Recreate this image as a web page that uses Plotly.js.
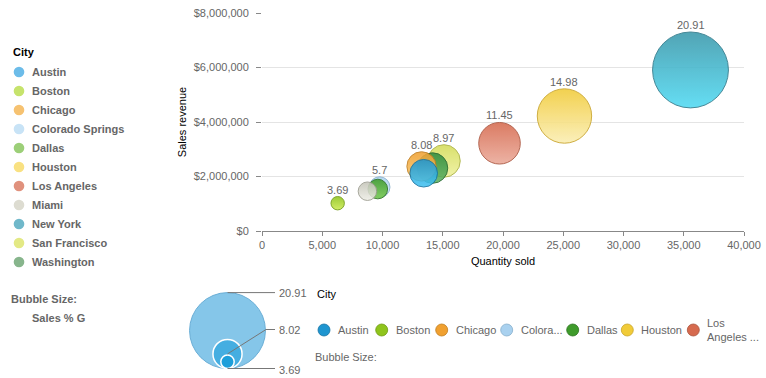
<!DOCTYPE html>
<html>
<head>
<meta charset="utf-8">
<script src="https://cdn.plot.ly/plotly-3.0.1.min.js"></script>
<style>html,body{margin:0;padding:0;background:#fff;}#chart{width:766px;height:378px;}</style>
</head>
<body>
<div id="chart"></div>
<script>
// ---- data ----
const cities = ["Austin","Boston","Chicago","Colorado Springs","Dallas","Houston","Los Angeles","Miami","New York","San Francisco","Washington"];
const quantitySold = [13420, 6280, 13240, 9760, 9610, 25100, 19710, 8750, 35560, 15100, 14150];
const salesRevenue = [2120000, 1020000, 2370000, 1610000, 1540000, 4220000, 3220000, 1460000, 5910000, 2570000, 2310000];
const salesPctG = [7.6, 3.69, 8.08, 5.7, 5.4, 14.98, 11.45, 5.1, 20.91, 8.97, 8.4];
const labelShown = [false, true, true, true, false, true, true, false, true, true, false];
const sizeLegendValues = [20.91, 8.02, 3.69];
const bottomLegendLabels = ["Austin","Boston","Chicago","Colora...","Dallas","Houston","Los<br>Angeles ..."];
const yTickVals = [0, 2000000, 4000000, 6000000, 8000000];
const xTickVals = [0, 5000, 10000, 15000, 20000, 25000, 30000, 35000, 40000];

// ---- styles ----
const legendColors = ["#6cbce9","#c6e36c","#f6c271","#c8e3f6","#9ccf78","#f9e182","#e0917d","#dddcd1","#70b8ca","#e3e985","#87b58c"];
const topColors = ["#1e95d0","#8fc41c","#f0a030","#a9d1ef","#3f9b2b","#f1cb38","#d66a4e","#c4c4b8","#3a98ab","#d4dc58","#2f8b3f"];
const bottomColors = ["#45c4f2","#cbeb50","#f8c970","#d8edfa","#76ca4e","#fbeeb2","#eba999","#eeeee6","#50daf3","#eff19c","#5fb363"];
const lineColors = ["#1673a3","#6f9a12","#c07d1e","#86aecb","#2c7320","#c9a42a","#aa533c","#9c9c90","#2c7889","#a9b03e","#22662d"];

const FONT = "Liberation Sans, Arial, sans-serif";
const L = 262, R = 744, T = 13, B = 231, W = 766, H = 378;
const PXPERVAL = 3.63;
function px(x){ return (x - L) / (R - L); }
function py(y){ return (B - y) / (B - T); }

// ---- traces (drawn largest first) ----
const order = cities.map((c,i)=>i).sort((a,b)=>salesPctG[b]-salesPctG[a]);
const traces = order.map(i => ({
  type: "scatter",
  mode: "markers",
  name: cities[i],
  x: [quantitySold[i]],
  y: [salesRevenue[i]],
  cliponaxis: false,
  marker: {
    size: [salesPctG[i]],
    sizemode: "diameter",
    sizeref: 1 / PXPERVAL,
    color: topColors[i],
    gradient: {type: "vertical", color: bottomColors[i]},
    line: {color: lineColors[i], width: 1},
    opacity: 0.88
  },
  hovertemplate: cities[i] + "<br>%{x:,}<br>%{y:$,.0f}<extra></extra>",
  showlegend: false
}));

// ---- annotations & shapes ----
const shapes = [];
const annotations = [];

// bubble value labels (anchored on data coordinates)
cities.forEach((c, i) => {
  if (!labelShown[i]) return;
  annotations.push({
    text: String(salesPctG[i]), xref: "x", yref: "y",
    x: quantitySold[i], y: salesRevenue[i],
    yshift: salesPctG[i] * PXPERVAL / 2 + 7,
    xanchor: "center", yanchor: "middle", showarrow: false,
    font: {family: FONT, size: 11, color: "#666"}
  });
});

function ann(text, x, y, opts){
  annotations.push(Object.assign({
    text: text, xref: "paper", yref: "paper", x: px(x), y: py(y),
    xanchor: "left", yanchor: "middle", showarrow: false,
    font: {family: FONT, size: 11, color: "#666"}
  }, opts || {}));
}
function circle(cx, cy, r, fill, line, lw){
  shapes.push({type: "circle", xref: "paper", yref: "paper",
    x0: px(cx - r), x1: px(cx + r), y0: py(cy + r), y1: py(cy - r),
    fillcolor: fill, line: {color: line, width: lw}, layer: "above"});
}
function seg(x0, y0, x1, y1){
  shapes.push({type: "line", xref: "paper", yref: "paper",
    x0: px(x0), x1: px(x1), y0: py(y0), y1: py(y1),
    line: {color: "#777", width: 1}, layer: "above"});
}

// left legend
ann("<b>City</b>", 11, 52, {font: {family: FONT, size: 11, color: "#000"}});
cities.forEach((c, i) => {
  const yy = 72 + 19 * i;
  circle(19, yy, 5.3, legendColors[i], legendColors[i], 0);
  ann("<b>" + c + "</b>", 30, yy);
});
ann("<b>Bubble Size:</b>", 9, 299);
ann("<b>Sales % G</b>", 30, 318);

// size legend
const sizeCx = 227.5, sizeBottom = 368.5;
const sizeFills = ["#85c6e9", "#45aee1", "#1e9fda"];
const sizeLines = ["#6aaed6", "#ffffff", "#ffffff"];
sizeLegendValues.forEach((v, k) => {
  const r = v * PXPERVAL / 2;
  circle(sizeCx, sizeBottom - r, r, sizeFills[k], sizeLines[k], k === 0 ? 1 : 1.5);
});
const rBig = sizeLegendValues[0] * PXPERVAL / 2;
const rMid = sizeLegendValues[1] * PXPERVAL / 2;
seg(sizeCx, sizeBottom - 2 * rBig, 275, sizeBottom - 2 * rBig);
seg(sizeCx, sizeBottom - rMid, 266, 329.5);
seg(266, 329.5, 275, 329.5);
seg(sizeCx, sizeBottom, 275, sizeBottom);
ann(String(sizeLegendValues[0]), 277, sizeBottom - 2 * rBig);
ann(String(sizeLegendValues[1]), 277, 330);
ann(String(sizeLegendValues[2]), 277, 369.5);

// bottom legend
ann("City", 315, 294, {font: {family: FONT, size: 11, color: "#000"}});
const bottomSymX = [324, 381.7, 441.7, 506.7, 572.7, 627.3, 693.3];
bottomLegendLabels.forEach((lab, i) => {
  circle(bottomSymX[i], 330, 6, topColors[i], lineColors[i], 0.8);
  ann(lab, bottomSymX[i] + 12, 330, {align: "left"});
});
ann("Bubble Size:", 313, 357);

const layout = {
  width: W, height: H,
  margin: {l: L, r: W - R, t: T, b: H - B, pad: 0},
  paper_bgcolor: "#fff", plot_bgcolor: "#fff",
  font: {family: FONT, size: 11, color: "#666"},
  showlegend: false,
  xaxis: {
    range: [0, 40000], tickvals: xTickVals, tickformat: ",",
    showgrid: false, zeroline: false,
    showline: true, linecolor: "#888", linewidth: 1,
    ticks: "outside", ticklen: 4, tickcolor: "#888",
    tickfont: {family: FONT, size: 11, color: "#666"},
    title: {text: "Quantity sold", font: {family: FONT, size: 11, color: "#000"}, standoff: 7}
  },
  yaxis: {
    range: [0, 8000000], tickvals: yTickVals, tickformat: "$,.0f",
    showgrid: true, gridcolor: "#e4e4e4", zeroline: false,
    showline: false,
    ticks: "outside", ticklen: 5, tickcolor: "#888",
    ticklabelstandoff: 5,
    tickfont: {family: FONT, size: 11, color: "#666"},
    title: {text: "Sales revenue", font: {family: FONT, size: 11, color: "#000"}, standoff: 4}
  },
  shapes: shapes,
  annotations: annotations
};

Plotly.newPlot("chart", traces, layout, {displayModeBar: false, responsive: false});
</script>
</body>
</html>
